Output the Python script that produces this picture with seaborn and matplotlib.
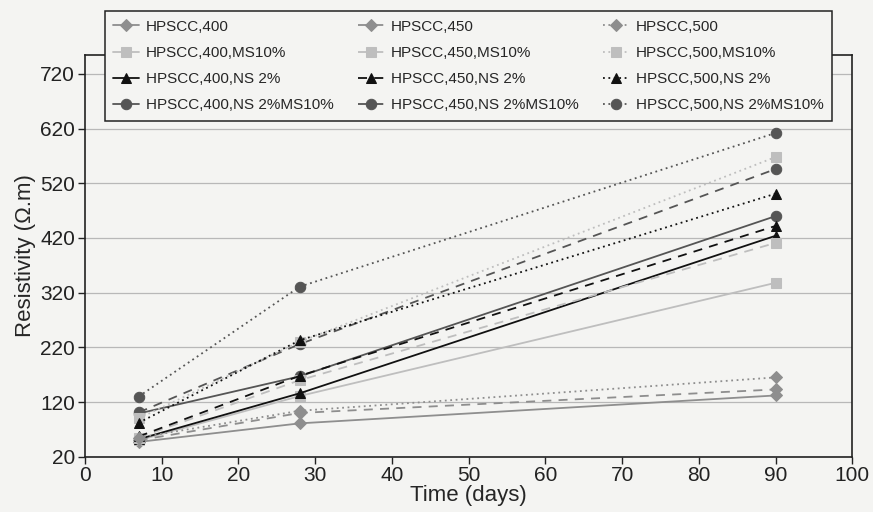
import numpy as np
import pandas as pd
import matplotlib
matplotlib.use("Agg")
import matplotlib.pyplot as plt
import seaborn as sns

# curing age (days) and resistivity values
days = [7, 28, 90]

hpscc_400 = [47, 81, 132]
hpscc_400_ms = [50, 131, 338]
hpscc_400_ns = [52, 136, 424]
hpscc_400_nsms = [99, 167, 460]

hpscc_450 = [50, 100, 143]
hpscc_450_ms = [55, 160, 411]
hpscc_450_ns = [57, 168, 442]
hpscc_450_nsms = [101, 226, 546]

hpscc_500 = [55, 104, 165]
hpscc_500_ms = [90, 230, 568]
hpscc_500_ns = [82, 233, 501]
hpscc_500_nsms = [130, 331, 612]

labels = [
    "HPSCC,400", "HPSCC,400,MS10%", "HPSCC,400,NS 2%", "HPSCC,400,NS 2%MS10%",
    "HPSCC,450", "HPSCC,450,MS10%", "HPSCC,450,NS 2%", "HPSCC,450,NS 2%MS10%",
    "HPSCC,500", "HPSCC,500,MS10%", "HPSCC,500,NS 2%", "HPSCC,500,NS 2%MS10%",
]
values = [
    hpscc_400, hpscc_400_ms, hpscc_400_ns, hpscc_400_nsms,
    hpscc_450, hpscc_450_ms, hpscc_450_ns, hpscc_450_nsms,
    hpscc_500, hpscc_500_ms, hpscc_500_ns, hpscc_500_nsms,
]

# mix type -> marker / colour, cement content -> line style
mix_markers = ["D", "s", "^", "o"]
mix_colors = ["#8e8e8e", "#bebebe", "#111111", "#555555"]
cement_styles = ["-", (0, (5, 4)), (0, (1, 2))]

sns.set_theme(style="white")
plt.rcParams["font.family"] = ["Liberation Sans", "DejaVu Sans"]

fig = plt.figure(figsize=(8.73, 5.12), dpi=100)
fig.patch.set_facecolor("#f4f4f2")
ax = fig.add_axes([0.0973, 0.108, 0.879, 0.785])
ax.set_facecolor("#f4f4f2")

for i, (lab, vals) in enumerate(zip(labels, values)):
    df = pd.DataFrame({"day": days, "res": vals})
    c = mix_colors[i % 4]
    sns.lineplot(data=df, x="day", y="res", ax=ax, color=c,
                 linestyle=cement_styles[i // 4], linewidth=1.3,
                 marker=mix_markers[i % 4], markersize=7.5 if i % 4 != 0 else 6.5,
                 markeredgecolor=c, label=lab)

ax.set_xlim(0, 100)
ax.set_ylim(20, 755)
ax.set_xticks(np.arange(0, 101, 10))
ax.set_yticks(np.arange(20, 721, 100))
ax.yaxis.grid(True, color="#b8b8b8", linewidth=0.9)
ax.tick_params(axis="both", labelsize=15, direction="out", length=5, width=1,
               bottom=True, left=True, colors="#222222", pad=2)
ax.set_xlabel("Time (days)", fontsize=16, labelpad=0)
ax.set_ylabel("Resistivity (\u03a9.m)", fontsize=16, labelpad=3)
for sp in ax.spines.values():
    sp.set_color("#222222")
    sp.set_linewidth(1.2)

leg = ax.legend(ncol=3, loc="upper left", bbox_to_anchor=(0.111, 0.993),
                bbox_transform=fig.transFigure, fontsize=11, frameon=True,
                fancybox=False, edgecolor="#222222", facecolor="#f4f4f2",
                framealpha=1, handlelength=1.7, handletextpad=0.45,
                columnspacing=1.6, labelspacing=0.8, borderpad=0.55)
leg.get_frame().set_linewidth(1.1)

fig.savefig("out.png", dpi=100, facecolor=fig.get_facecolor())
